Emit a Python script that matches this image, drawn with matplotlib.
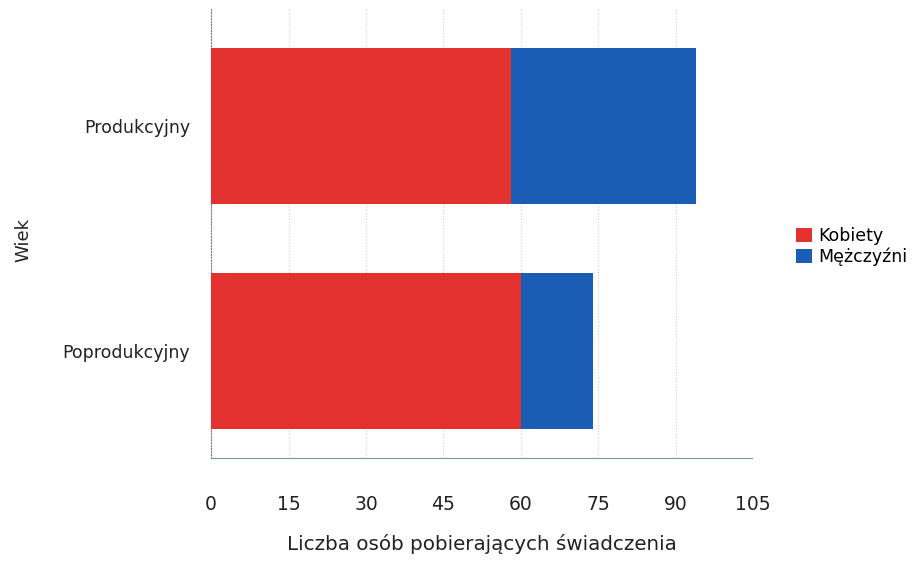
import matplotlib.pyplot as plt
import numpy as np

# data (top to bottom)
categories = ['Produkcyjny', 'Poprodukcyjny']
kobiety = [58, 60]
mezczyzni = [36, 14]
xticks = [0, 15, 30, 45, 60, 75, 90, 105]

RED = '#e2312e'
BLUE = '#1b5db4'

plt.rcParams['font.family'] = ['DejaVu Sans']

fig = plt.figure(figsize=(9.22, 5.64), dpi=100)
ax = fig.add_axes([0.229, 0.188, 0.588, 0.798])

y = np.arange(len(categories))
ax.barh(y, kobiety, height=0.69, color=RED, label='Kobiety', zorder=3)
ax.barh(y, mezczyzni, left=kobiety, height=0.69, color=BLUE,
        label='Mężczyźni', zorder=3)

ax.set_ylim(1.475, -0.525)
ax.set_xlim(0, 105)
ax.set_yticks(y)
ax.set_yticklabels(categories, fontsize=12.5, color='#222222')
ax.set_xticks(xticks)
ax.set_xticklabels([str(t) for t in xticks], fontsize=13.5, color='#222222')
ax.tick_params(axis='x', length=0, pad=27)
ax.tick_params(axis='y', length=0, pad=15)

ax.grid(axis='x', linestyle=':', color='#cfcfcf', linewidth=0.8, zorder=0)
for s in ['top', 'right']:
    ax.spines[s].set_visible(False)
ax.spines['left'].set_linestyle(':')
ax.spines['left'].set_color('#777777')
ax.spines['bottom'].set_linestyle((0, (3, 1)))
ax.spines['bottom'].set_color('#7f95a8')

ax.set_xlabel('Liczba osób pobierających świadczenia', fontsize=14.3,
              color='#222222', labelpad=14)
fig.text(0.025, 0.575, 'Wiek', rotation=90, fontsize=13, color='#222222',
         va='center', ha='center')

ax.legend(loc='center left', bbox_to_anchor=(1.05, 0.47), frameon=False,
          fontsize=12.5, handlelength=0.9, handleheight=0.9, handletextpad=0.4,
          labelspacing=0.15)

fig.savefig('out.png', dpi=100, facecolor='white')
